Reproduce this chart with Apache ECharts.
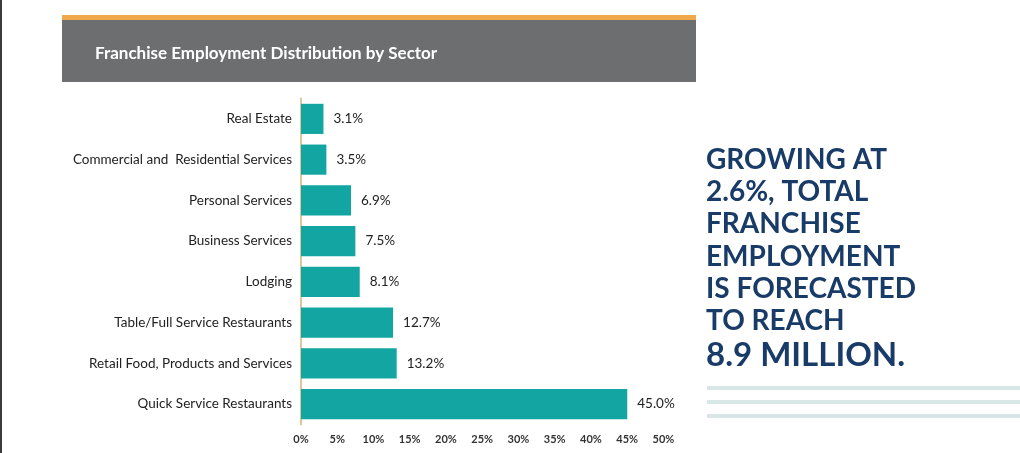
<!DOCTYPE html>
<html><head><meta charset="utf-8">
<script src="https://cdn.jsdelivr.net/npm/echarts@6/dist/echarts.min.js"></script>
<style>html,body{margin:0;padding:0;background:#fff}#c{width:1020px;height:453px}</style>
</head><body><div id="c"></div>
<script>
const categories = ["Real Estate","Commercial and  Residential Services","Personal Services","Business Services","Lodging","Table/Full Service Restaurants","Retail Food, Products and Services","Quick Service Restaurants"];
const shares = [3.1,3.5,6.9,7.5,8.1,12.7,13.2,45.0];
const title = "Franchise Employment Distribution by Sector";
const sideLines = ["GROWING AT","2.6%, TOTAL","FRANCHISE","EMPLOYMENT","IS FORECASTED","TO REACH"];
const sideLast = "8.9 MILLION.";

const chart = echarts.init(document.getElementById('c'));
const F = 'Lato, "Open Sans", sans-serif';
const graphics = [
  {type:'rect', shape:{x:0,y:0,width:2,height:453}, style:{fill:'#3a3a3a'}},
  {type:'rect', shape:{x:62,y:15,width:634,height:5}, style:{fill:'#f0a84c'}},
  {type:'rect', shape:{x:62,y:20,width:634,height:62}, style:{fill:'#6c6e70'}},
  {type:'text', x:95, y:54, style:{text:title, fill:'#ffffff', font:'bold 17px '+F, verticalAlign:'middle'}}
];
sideLines.forEach((t,i)=>graphics.push({type:'text', x:706, y:160+i*32.2, style:{text:t, fill:'#183b68', font:'bold 28px '+F, verticalAlign:'middle'}}));
graphics.push({type:'text', x:706, y:355, style:{text:sideLast, fill:'#183b68', font:'bold 33px '+F, verticalAlign:'middle'}});
[386,400,414].forEach(y=>graphics.push({type:'rect', shape:{x:707,y:y,width:313,height:4}, style:{fill:'#d9e6e6'}}));

chart.setOption({
  animation:false,
  grid:{left:301, right:356.5, top:98.5, bottom:28.5, containLabel:false},
  xAxis:{type:'value', min:0, max:50, interval:5,
    axisLine:{show:false}, axisTick:{show:false}, splitLine:{show:false},
    axisLabel:{formatter:'{value}%', color:'#333', fontSize:11, fontWeight:'bold', fontFamily:F, margin:9}},
  yAxis:{type:'category', data:categories, inverse:true,
    axisLine:{show:true, lineStyle:{color:'#dcc89e', width:2}}, axisTick:{show:false},
    axisLabel:{color:'#222', fontSize:13.5, fontFamily:F, margin:9}},
  series:[{type:'bar', data:shares, barCategoryGap:'26%',
    itemStyle:{color:'#12a5a1'},
    label:{show:true, position:'right', distance:10, color:'#222', fontSize:13.5, fontFamily:F,
      formatter:p=>p.value.toFixed(1)+'%'}}],
  graphic:graphics
});
</script></body></html>
